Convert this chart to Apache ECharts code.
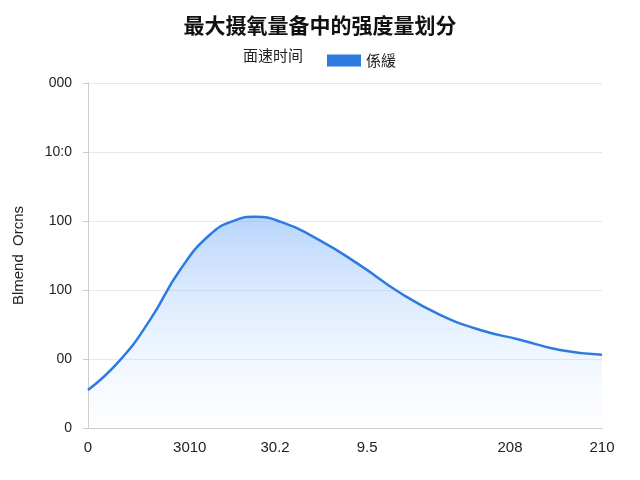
<!DOCTYPE html><html><head><meta charset="utf-8"><script src="https://cdn.jsdelivr.net/npm/echarts@6/dist/echarts.min.js"></script></head><body style="margin:0"><div id="c" style="width:640px;height:480px"></div><script>
const xVals=[0,6.2,12.1,17.9,23.7,28.6,32.5,37.4,45.1,52.9,60.7,68.5,76.3,84.0,91.8,100];
const yVals=[55,98,157,229,280,301,306,299,272,236,196,164,142,128,113,106];
const xTickPos=[0,19.8,36.4,54.3,82.1,100];
const xTickLabels=['0','3010','30.2','9.5','208','210'];
const yTickLabels=['0','00','100','100','10:0','000'];
const ch=echarts.init(document.getElementById('c'));
ch.setOption({
title:{text:'最大摄氧量备中的强度量划分',left:'center',top:10,textStyle:{fontSize:21,fontWeight:'bold',color:'#111',fontFamily:'Noto Sans CJK SC'}},
legend:{top:48,left:322,itemWidth:34,itemHeight:12,icon:'rect',data:['係緩'],textStyle:{fontSize:15,color:'#222',fontFamily:'Noto Sans CJK SC'}},
graphic:[{type:'text',left:243,top:48,style:{text:'面速时间',fontSize:15,fill:'#222',fontFamily:'Noto Sans CJK SC'}}],
grid:{left:88,right:38,top:83,bottom:52},
xAxis:{type:'value',min:0,max:100,splitLine:{show:false},axisLine:{lineStyle:{color:'#ccc'}},axisTick:{show:false},
axisLabel:{customValues:xTickPos,formatter:v=>xTickLabels[xTickPos.indexOf(v)]??'',fontSize:15,color:'#222',margin:12}},
yAxis:{type:'value',min:0,max:500,interval:100,name:'Blmend  Orcns',nameLocation:'middle',nameGap:62,nameTextStyle:{fontSize:15,color:'#222'},
axisLine:{show:true,lineStyle:{color:'#ccc'}},splitLine:{lineStyle:{color:'#e8e8e8'}},axisLabel:{formatter:v=>yTickLabels[v/100],fontSize:14,color:'#222',margin:16}},
series:[{name:'係緩',type:'line',smooth:true,symbol:'none',data:xVals.map((x,i)=>[x,yVals[i]]),
lineStyle:{width:2.5,color:'#2e7be0'},itemStyle:{color:'#2e7be0'},
areaStyle:{color:new echarts.graphic.LinearGradient(0,0,0,1,[{offset:0,color:'rgba(120,175,250,0.75)'},{offset:1,color:'rgba(220,235,255,0.1)'}])}}]
});
</script></body></html>
